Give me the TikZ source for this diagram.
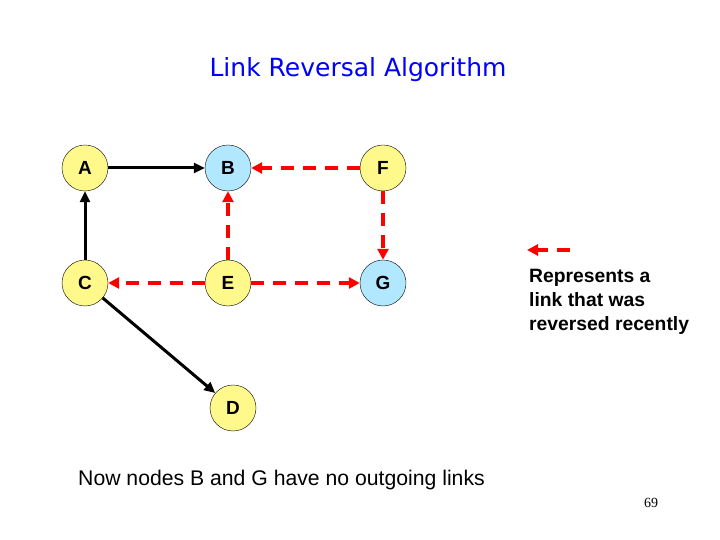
\documentclass[tikz,border=0pt]{standalone}
\usepackage{fontspec}
\setmainfont{Liberation Serif}
\newfontfamily\arialf{Liberation Sans}
\newfontfamily\titlef{DejaVu Sans}
\usetikzlibrary{arrows.meta}
\tikzset{
  nd/.style={circle,draw=black,fill=yellow!45,minimum size=46pt,inner sep=0pt,font=\arialf\bfseries\fontsize{19}{19}\selectfont},
  bl/.style={nd,fill=blue!30!cyan!30},
  blk/.style={line width=3pt,-{Triangle[length=11pt,width=10pt]}},
  rev/.style={line width=3.4pt,red,dash pattern=on 13pt off 9pt,-{Triangle[length=11pt,width=11pt]}}
}
\begin{document}
\begin{tikzpicture}[x=1pt,y=1pt]
\useasboundingbox (0,0) rectangle (720,540);
\node[font=\titlef\fontsize{25}{25}\selectfont,text=blue] (title) at (358,470) {Link Reversal Algorithm};

\node[nd] (A) at (85,372) {A};
\node[bl] (B) at (228,372) {B};
\node[nd] (F) at (383,372) {F};
\node[nd] (C) at (85,257) {C};
\node[nd] (E) at (228,257) {E};
\node[bl] (G) at (383,257) {G};
\node[nd] (D) at (233,132) {D};

\draw[blk] (A) -- (B);
\draw[blk] (C) -- (A);
\draw[blk] (C) -- (D);
\draw[rev] (E) -- (C);
\draw[rev] (E) -- (B);
\draw[rev] (F) -- (B);
\draw[rev] (F) -- (G);
\draw[rev] (E) -- (G);

\coordinate (l1) at (570,290);
\coordinate (l2) at (527,290);
\draw[rev] (l1) -- (l2);
\node[anchor=north west,align=left,inner sep=0pt,font=\arialf\bfseries\fontsize{19.3}{24}\selectfont] (leg) at (529,271) {Represents a\\link that was\\reversed recently};

\node[anchor=west,inner sep=0pt,font=\arialf\fontsize{21.2}{21}\selectfont] (note) at (78,60) {Now nodes B and G have no outgoing links};
\node[font=\fontsize{14}{14}\selectfont] (pg) at (651,37) {69};
\end{tikzpicture}
\end{document}
